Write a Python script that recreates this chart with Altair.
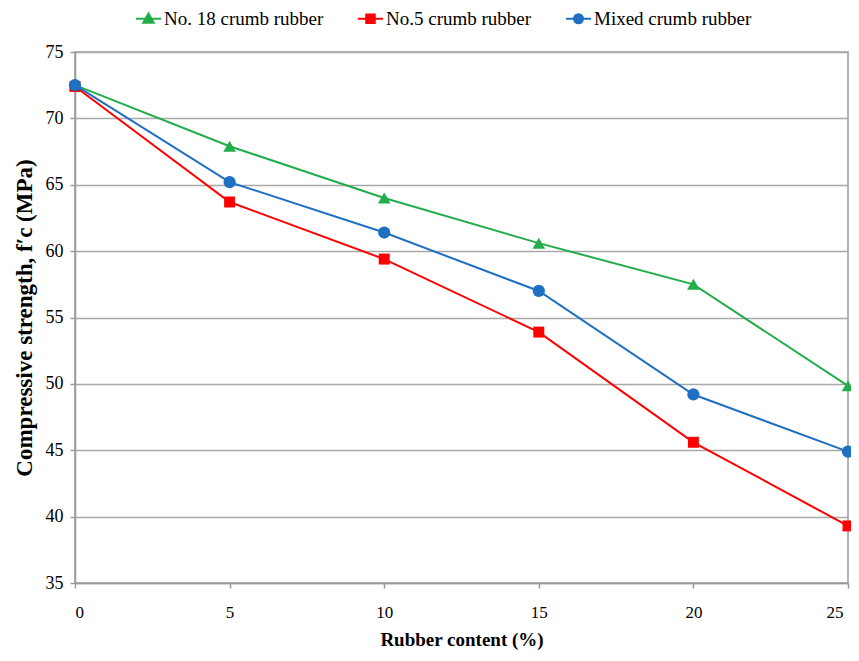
import altair as alt
import pandas as pd

rubber = [0, 5, 10, 15, 20, 25]
series_names = ["No. 18 crumb rubber", "No.5 crumb rubber", "Mixed crumb rubber"]
no18 = [72.5, 67.9, 64.0, 60.6, 57.5, 49.85]
no5 = [72.4, 63.7, 59.4, 53.9, 45.6, 39.3]
mixed = [72.5, 65.2, 61.4, 57.0, 49.2, 44.9]
x_ticks = [0, 5, 10, 15, 20, 25]
y_ticks = [35, 40, 45, 50, 55, 60, 65, 70, 75]

colors = ["#22ad4b", "#ff0000", "#1f6fc2"]
shapes = ["triangle-up", "square", "circle"]
sizes = [160, 120, 150]
legend_paths = [
    "M-1,0H1M0,-0.42L0.42,0.32L-0.42,0.32Z",
    "M-1,0H1M-0.34,-0.34H0.34V0.34H-0.34Z",
    "M-1,0H1M-0.36,0A0.36,0.36,0,1,1,0.36,0A0.36,0.36,0,1,1,-0.36,0Z",
]

rows = []
for name, vals in zip(series_names, [no18, no5, mixed]):
    for xv, yv in zip(rubber, vals):
        rows.append({"series": name, "rubber": xv, "strength": yv})
df = pd.DataFrame(rows)

FONT = "Liberation Serif"

x_enc = alt.X(
    "rubber:Q",
    scale=alt.Scale(domain=[0, 25], nice=False, zero=False),
    axis=alt.Axis(
        values=x_ticks, title="Rubber content (%)", grid=False,
        labelFontSize=17, titleFontSize=19, labelPadding=16, titlePadding=10,
        labelOffset=alt.ExprRef("datum.value == 25 ? -5 : 0"),
    ),
)
y_enc = alt.Y(
    "strength:Q",
    scale=alt.Scale(domain=[35, 75], nice=False, zero=False),
    axis=alt.Axis(
        values=y_ticks, title="Compressive strength, f′c (MPa)", grid=True,
        labelFontSize=18, titleFontSize=23, labelPadding=7, titlePadding=9,
    ),
)

layers = []
for name, col, shp, sz in zip(series_names, colors, shapes, sizes):
    sub = alt.Chart(df).transform_filter(alt.datum.series == name)
    layers.append(sub.mark_line(color=col, strokeWidth=2).encode(x=x_enc, y=y_enc))
    layers.append(
        sub.mark_point(shape=shp, filled=True, color=col, size=sz, opacity=1).encode(x=x_enc, y=y_enc)
    )

leg = dict(
    title=None, orient="none", legendX=60, legendY=-47, direction="horizontal",
    symbolSize=625, symbolStrokeWidth=2, symbolOpacity=1,
    labelFont=FONT, labelFontSize=19, labelColor="black", labelOffset=2,
    columnPadding=30, padding=0,
)
legend_layer = alt.Chart(df).mark_point(filled=True, opacity=0).encode(
    x=x_enc,
    y=y_enc,
    fill=alt.Fill("series:N", scale=alt.Scale(domain=series_names, range=colors), legend=alt.Legend(**leg)),
    stroke=alt.Stroke("series:N", scale=alt.Scale(domain=series_names, range=colors), legend=alt.Legend(**leg)),
    shape=alt.Shape("series:N", scale=alt.Scale(domain=series_names, range=legend_paths), legend=alt.Legend(**leg)),
)

chart = (
    alt.layer(*layers, legend_layer)
    .properties(
        width=773, height=531, autosize="none",
        padding={"left": 67, "top": 44, "right": 3, "bottom": 70},
    )
    .configure_view(stroke="#9a9a9a", strokeWidth=1.5)
    .configure_axis(
        labelFont=FONT, titleFont=FONT, labelColor="black", titleColor="black",
        titleFontWeight="bold", tickColor="#9a9a9a", domainColor="#9a9a9a",
        gridColor="#a8a8a8", gridWidth=1.5, domainWidth=1.5, tickWidth=1.5, tickSize=5,
    )
)

chart.save("out.html", embed_options={"renderer": "svg", "actions": False})
